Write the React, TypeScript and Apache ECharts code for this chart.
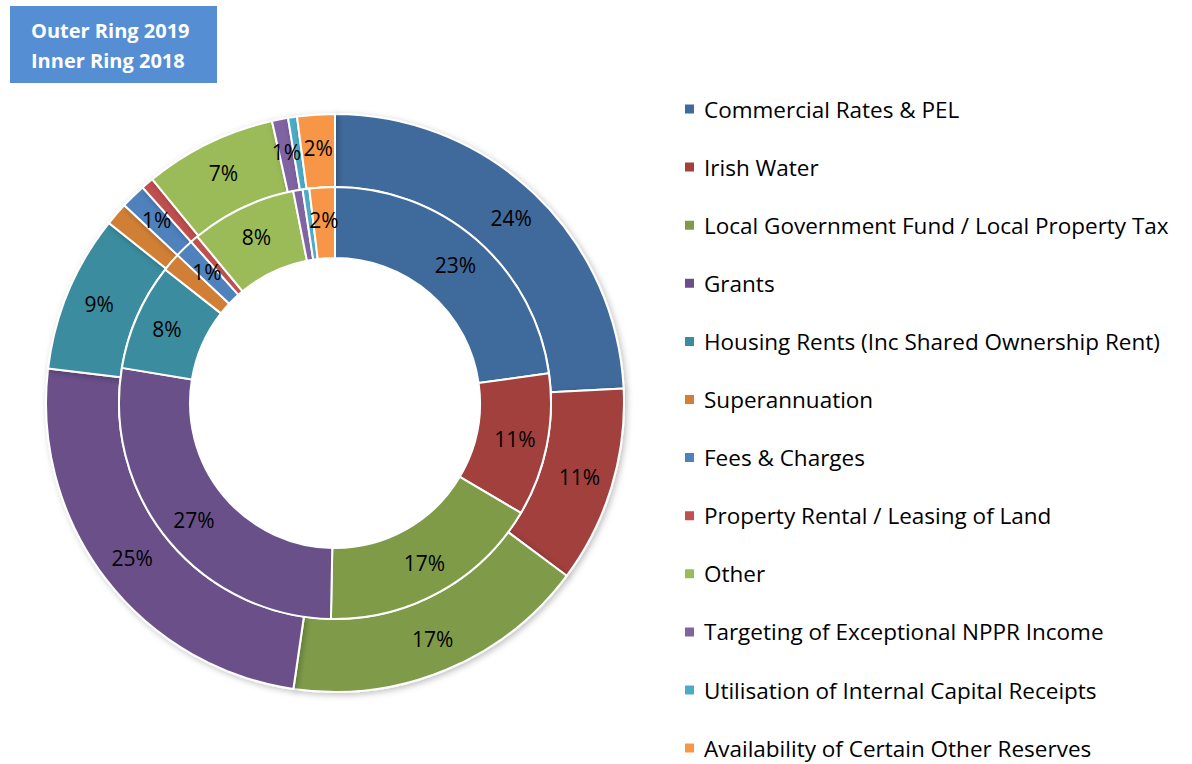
import React, { useEffect, useRef } from "react";
import * as echarts from "echarts";

const categories = [
  "Commercial Rates & PEL",
  "Irish Water",
  "Local Government Fund / Local Property Tax",
  "Grants",
  "Housing Rents (Inc Shared Ownership Rent)",
  "Superannuation",
  "Fees & Charges",
  "Property Rental / Leasing of Land",
  "Other",
  "Targeting of Exceptional NPPR Income",
  "Utilisation of Internal Capital Receipts",
  "Availability of Certain Other Reserves",
];

// percentages
const values2019 = [24.2, 11.0, 17.1, 24.6, 8.8, 1.3, 1.4, 0.7, 7.4, 0.9, 0.5, 2.1];
const values2018 = [22.8, 10.7, 16.8, 27.3, 8.0, 1.4, 1.4, 0.6, 7.9, 0.7, 0.5, 1.9];
const hiddenLabels = ["Property Rental / Leasing of Land", "Utilisation of Internal Capital Receipts"];

const colors = [
  "#3F6A9C", "#A2403D", "#7F9B48", "#6A5089", "#3B8C9F", "#D17F36",
  "#4F81BD", "#C0504D", "#9BBB59", "#8064A2", "#4BACC6", "#F79646",
];

const FONT = "Open Sans";

export default function App() {
  const ref = useRef<HTMLDivElement>(null);
  useEffect(() => {
    document.body.style.margin = "0";
    const chart = echarts.init(ref.current!, null, { renderer: "svg" });
    const makeData = (vals: number[]) =>
      categories.map((c, i) => ({
        name: c,
        value: vals[i],
        label: { show: !hiddenLabels.includes(c) },
      }));
    const label = {
      show: true,
      position: "inside",
      formatter: (p: any) => Math.round(p.percent) + "%",
      color: "#000",
      fontSize: 21,
      fontFamily: FONT,
    };
    const itemStyle = { borderColor: "#fff", borderWidth: 2 };
    chart.setOption({
      animation: false,
      color: colors,
      legend: {
        orient: "vertical",
        left: 683,
        top: 97,
        height: 700,
        padding: 0,
        itemWidth: 11,
        itemHeight: 11,
        itemGap: 34.1,
        icon: "rect",
        selectedMode: false,
        data: categories,
        textStyle: { fontSize: 22.5, lineHeight: 24, color: "#000", fontFamily: FONT, padding: [0, 0, 0, 4] },
      },
      graphic: [
        { type: "rect", left: 10, top: 6, shape: { width: 207, height: 77 }, style: { fill: "#568ED4" } },
        {
          type: "text",
          left: 31,
          top: 15,
          style: {
            text: "Outer Ring 2019\nInner Ring 2018",
            fill: "#fff",
            fontSize: 20,
            fontWeight: "bold",
            lineHeight: 30,
            fontFamily: FONT,
          },
        },
      ],
      series: [
        {
          type: "pie",
          name: "2019",
          center: [335, 403],
          radius: [216, 289],
          startAngle: 90,
          clockwise: true,
          avoidLabelOverlap: false,
          label,
          labelLine: { show: false },
          itemStyle: { ...itemStyle, shadowBlur: 6, shadowColor: "rgba(0,0,0,0.25)", shadowOffsetX: 2, shadowOffsetY: 2 },
          emphasis: { disabled: true },
          data: makeData(values2019),
        },
        {
          type: "pie",
          name: "2018",
          center: [335, 403],
          radius: [145, 216],
          startAngle: 90,
          clockwise: true,
          avoidLabelOverlap: false,
          label,
          labelLine: { show: false },
          itemStyle,
          emphasis: { disabled: true },
          data: makeData(values2018),
        },
      ],
    });
    return () => chart.dispose();
  }, []);
  return <div ref={ref} style={{ width: 1192, height: 764 }} />;
}
